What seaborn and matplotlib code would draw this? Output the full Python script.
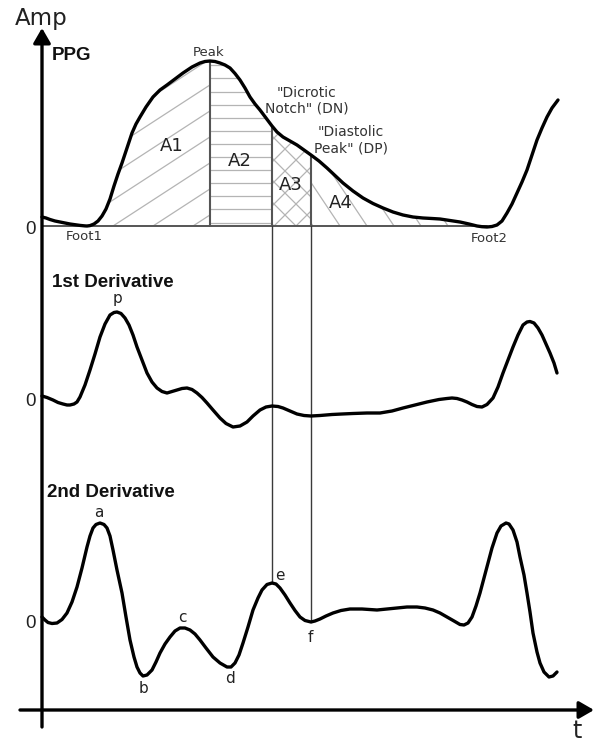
import numpy as np
import pandas as pd
import matplotlib
matplotlib.use("Agg")
import matplotlib.pyplot as plt
import seaborn as sns

# ---------------- data (t = time units from the y-axis, amp = height above each trace's zero) -------------
ppg_t = [0, 4, 8, 13, 18, 23, 28, 33, 38, 43, 45, 48, 52, 56, 60, 64, 68, 72, 76, 80,
         85, 90, 94, 98, 104, 111, 118, 125, 133, 141, 150, 158, 163, 168, 173, 178, 183, 188, 193, 198,
         203, 208, 213, 218, 224, 230, 235, 241, 248, 255, 262, 269, 277, 285, 293, 301, 311, 321, 331, 341,
         351, 361, 371, 381, 390, 398, 408, 418, 427, 435, 440, 445, 450, 455, 460, 465, 470, 475, 480, 485,
         490, 495, 500, 505, 510, 516]
ppg_amp = [9, 8, 6.5, 5, 4, 3, 2, 1.3, 0.6, 0.1, 0, 0.4, 2, 5, 10, 17, 27, 40, 52, 63,
           78, 93, 102, 109, 119, 129, 136, 141, 147, 153, 159, 163, 164.5, 165, 164.5, 163, 161, 158, 152.5, 146,
           138, 129, 122, 116, 108, 100, 94, 89, 85, 81, 76, 71, 65, 58, 50.5, 43, 35, 28, 22.5, 18,
           14, 11, 9, 8, 7.5, 7, 5.5, 4, 2, 0, -0.7, -1, -0.5, 1, 5, 13, 22, 33, 44, 56,
           71, 86, 98, 109, 118, 126]

d1_t = [0, 5, 11, 16, 21, 25, 28, 32, 35, 38, 43, 48, 53, 58, 63, 68, 72, 75, 79, 83,
        87, 91, 95, 100, 105, 110, 115, 120, 125, 130, 135, 140, 145, 150, 155, 160, 165, 171, 178, 184,
        191, 198, 205, 211, 218, 224, 230, 236, 241, 248, 255, 262, 269, 278, 290, 300, 311, 325, 338, 350,
        361, 373, 385, 397, 405, 410, 415, 420, 425, 430, 435, 440, 445, 451, 456, 461, 466, 471, 476, 481,
        485, 488, 492, 496, 500, 504, 508, 512, 515]
d1_amp = [2, 0.5, -2, -4.5, -6, -7, -7, -6, -4, 1, 13, 28, 44, 61, 74, 83, 85.5, 86, 84.5, 80,
          73, 63, 51, 38, 25, 16, 10, 6.5, 5, 6.5, 8, 9.5, 10, 8.5, 5, 0.5, -5, -12, -20, -25.5,
          -29, -28, -24, -18, -12, -9, -8, -8.5, -10, -13, -16, -17.5, -18, -17.5, -16.5, -16, -15.5, -15, -15, -13,
          -10, -7, -4, -1.5, -0.5, 0, -0.5, -2, -4, -6.5, -8.5, -9, -6.5, 0, 11, 25, 38, 51, 63, 73,
          76, 76.5, 75, 70, 63, 54, 45, 35, 25]

d2_t = [0, 3, 6, 10, 15, 20, 25, 30, 35, 40, 45, 48, 51, 54, 58, 62, 65, 68, 71, 75,
        80, 84, 88, 92, 95, 98, 101, 105, 110, 114, 118, 123, 128, 133, 138, 143, 148, 153, 158, 164,
        171, 178, 185, 189, 193, 197, 201, 206, 211, 216, 220, 225, 230, 234, 238, 243, 248, 253, 258, 263,
        269, 273, 278, 284, 291, 299, 308, 320, 335, 345, 355, 365, 375, 383, 391, 398, 405, 412, 418, 422,
        426, 430, 434, 438, 442, 446, 450, 455, 459, 464, 467, 471, 475, 478, 482, 485, 488, 491, 495, 498,
        502, 507, 511, 515]
d2_amp = [3, 0, -2.5, -3.5, -3, 0.5, 7, 18, 33, 52, 73, 84, 92, 95.5, 97, 95.5, 92, 84, 70, 50,
          27, 3, -20, -37, -47, -53, -56, -55, -50, -42, -33, -24, -17, -11, -8, -8, -10, -14, -20, -28,
          -37, -43, -47, -47, -43, -35, -23, -7, 10, 22, 30, 35.5, 37, 36, 32, 25, 17, 9.5, 3, -0.5,
          -2, -1, 1, 4, 7, 9.5, 11, 11, 10, 11, 12, 13, 13, 12, 10, 7, 3, -1, -4.5, -5,
          -3, 3, 14, 27, 42, 57, 72, 87, 94, 97, 96, 90, 78, 63, 45, 27, 8, -13, -32, -43,
          -52, -57, -56, -52]

t_foot1, t_peak, t_dn, t_dp, t_foot2 = 45, 168, 230, 269, 435
area_labels = ["A1", "A2", "A3", "A4"]
wave_labels = ["a", "b", "c", "d", "e", "f"]

# ---------------- figure -------------
sns.set_theme(style="white")
plt.rcParams["font.family"] = ["DejaVu Sans"]

fig = plt.figure(figsize=(6.05, 7.45), dpi=100)
ax = fig.add_axes([0, 0, 1, 1])

off_ppg, off_d1, off_d2 = 519, 347, 125

ppg_t_a = np.array(ppg_t, float)
ppg_a = np.array(ppg_amp, float)

hatch_c = "#b4b4b4"


def hatch_region(lo, hi, segs):
    m = (ppg_t_a >= lo) & (ppg_t_a <= hi)
    poly = ax.fill_between(ppg_t_a[m], off_ppg, off_ppg + ppg_a[m],
                           facecolor="none", edgecolor="none", lw=0)
    path = poly.get_paths()[0]
    for xs, ys in segs:
        ln, = ax.plot(xs, ys, color=hatch_c, lw=0.9, zorder=1)
        ln.set_clip_path(path, ax.transData)


# A1: rising diagonals
segs = []
for t0 in range(151, -200, -40):
    segs.append(([t0, t0 + 400], [off_ppg, off_ppg + 0.65 * 400]))
hatch_region(t_foot1, t_peak, segs)

# A2: horizontal lines
segs = []
for k in range(14):
    yv = off_ppg + 3.5 + 13.1 * k
    segs.append(([t_peak, t_dn], [yv, yv]))
hatch_region(t_peak, t_dn, segs)

# A3: cross hatch
segs = []
for t0 in range(100, 420, 22):
    segs.append(([t0, t0 + 200], [off_ppg, off_ppg + 200]))
    segs.append(([t0, t0 - 200], [off_ppg, off_ppg + 200]))
hatch_region(t_dn, t_dp, segs)

# A4: falling diagonals
segs = []
for t0 in range(271, 460, 27):
    segs.append(([t0, t0 - 150], [off_ppg, off_ppg + 1.5 * 150]))
hatch_region(t_dp, t_foot2, segs)

# baseline of PPG
ax.plot([0, 445], [off_ppg, off_ppg], color="#555555", lw=1.4, zorder=2)

# vertical markers
amp_at = lambda tt, aa, tv: float(np.interp(tv, tt, aa))
ax.plot([t_peak, t_peak], [off_ppg, off_ppg + amp_at(ppg_t, ppg_amp, t_peak)],
        color="#555555", lw=1.5, zorder=2)
for tv in (t_dn, t_dp):
    ax.plot([tv, tv], [off_ppg, off_ppg + amp_at(ppg_t, ppg_amp, tv)],
            color="#555555", lw=1.5, zorder=2)
    ax.plot([tv, tv], [off_d2 + amp_at(d2_t, d2_amp, tv), off_ppg],
            color="#3a3a3a", lw=1.0, zorder=2)

# curves
for tt, aa, off in ((ppg_t, ppg_amp, off_ppg), (d1_t, d1_amp, off_d1), (d2_t, d2_amp, off_d2)):
    df = pd.DataFrame({"t": tt, "y": np.array(aa, float) + off})
    sns.lineplot(data=df, x="t", y="y", ax=ax, color="black", lw=2.4,
                 estimator=None, sort=False, zorder=5)
    ax.lines[-1].set_solid_joinstyle("round")
    ax.lines[-1].set_solid_capstyle("round")

ax.set_xlim(-42, 563)
ax.set_ylim(0, 745)
ax.axis("off")

# axes arrows
arrow = dict(arrowstyle="-|>,head_length=0.45,head_width=0.26", lw=2.4, color="black",
             shrinkA=0, shrinkB=0, mutation_scale=20)
ax.annotate("", xy=(0, 717), xytext=(0, 18), arrowprops=arrow, zorder=6)
ax.annotate("", xy=(552, 35), xytext=(-22, 35), arrowprops=arrow, zorder=6)

# texts
tc = "#222222"
ax.text(-27, 720, "Amp", fontsize=16.5, color=tc, ha="left", va="baseline")
ax.text(535, 7, "t", fontsize=17, color=tc, ha="center", va="baseline")

bold = dict(family=["Liberation Sans", "DejaVu Sans"], fontweight="bold", fontsize=13.5,
            color="#111111", ha="left", va="baseline")
ax.text(10, 685, "PPG", **bold)
ax.text(10, 458, "1st Derivative", **bold)
ax.text(5, 248, "2nd Derivative", **bold)

zero = dict(family=["Liberation Sans", "DejaVu Sans"], fontsize=13.5, color=tc,
            ha="center", va="center")
for off in (off_ppg, off_d1, off_d2):
    ax.text(-12, off - 3, "0", **zero)

small = dict(fontsize=9.5, color="#333333", ha="center", va="baseline")
ax.text(167, 689.5, "Peak", **small)
ax.text(42, 505.5, "Foot1", **small)
ax.text(447, 503.5, "Foot2", **small)
ax.text(265, 648, "\"Dicrotic", fontsize=10, color="#333333", ha="center", va="baseline")
ax.text(265, 632, "Notch\" (DN)", fontsize=10, color="#333333", ha="center", va="baseline")
ax.text(309, 609, "\"Diastolic", fontsize=10, color="#333333", ha="center", va="baseline")
ax.text(309, 593, "Peak\" (DP)", fontsize=10, color="#333333", ha="center", va="baseline")

area_pos = [(130, 594), (198, 579), (248.5, 555), (298.5, 537)]
for lab, (x, y) in zip(area_labels, area_pos):
    ax.text(x, y, lab, fontsize=13, color=tc, ha="center", va="baseline")

ax.text(76, 442, "p", fontsize=11, color=tc, ha="center", va="baseline")
wave_pos = [(57, 228), (101, 52), (140.5, 123.3), (187.5, 62), (238, 165), (268, 103.3)]
for lab, (x, y) in zip(wave_labels, wave_pos):
    ax.text(x, y, lab, fontsize=11, color=tc, ha="center", va="baseline")

fig.savefig("out.png", dpi=100)
